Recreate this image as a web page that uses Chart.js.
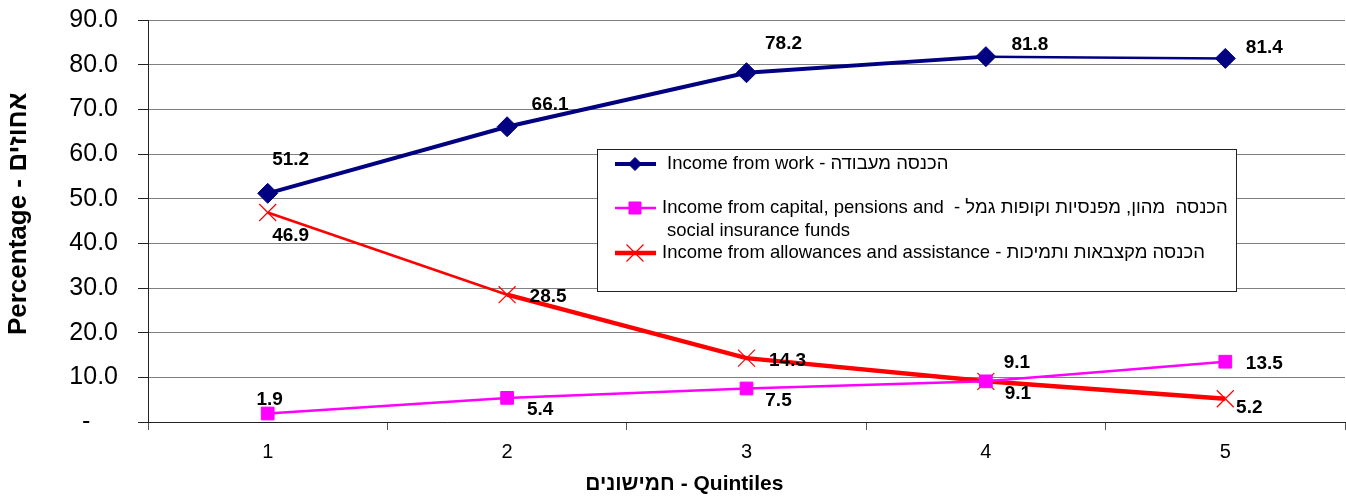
<!DOCTYPE html>
<html>
<head>
<meta charset="utf-8">
<script src="https://cdn.jsdelivr.net/npm/chart.js@4.4.0/dist/chart.umd.min.js"></script>
<style>
  html, body { margin: 0; padding: 0; background: #fff; }
  #wrap { width: 1346px; height: 502px; position: relative; }
</style>
</head>
<body>
<div id="wrap"><canvas id="myChart"></canvas></div>
<script>
var quintiles = ["1", "2", "3", "4", "5"];
var workIncome = [51.2, 66.1, 78.2, 81.8, 81.4];
var capitalIncome = [1.9, 5.4, 7.5, 9.1, 13.5];
var allowanceIncome = [46.9, 28.5, 14.3, 9.1, 5.2];
var yTickLabels = ["-    ", "10.0", "20.0", "30.0", "40.0", "50.0", "60.0", "70.0", "80.0", "90.0"];

var workName = "Income from work - הכנסה מעבודה";
var capitalName = ["Income from capital, pensions and  - הכנסה  מהון, מפנסיות וקופות גמל", "social insurance funds"];
var allowanceName = "Income from allowances and assistance - הכנסה מקצבאות ותמיכות";
var xTitle = "חמישונים - Quintiles";
var yTitle = "  Percentage - אחוזים";

// where each value label sits relative to its point (px)
var workShift = [[23, -34], [43, -22], [37, -29], [44, -12], [39, -11]];
var capitalShift = [[2, -14], [33, 12], [32, 12], [31, -19], [39, 2]];
var allowanceShift = [[23, 23], [41, 2], [41, 3], [32, 12], [24, 9]];

var FONT = "'Liberation Sans', Arial, sans-serif";
Chart.defaults.font.family = FONT;
Chart.defaults.color = "#000";

var valueLabels = {
  id: "valueLabels",
  afterDatasetsDraw: function(chart) {
    var ctx = chart.ctx;
    ctx.save();
    ctx.font = "bold 19px " + FONT;
    ctx.fillStyle = "#000";
    ctx.textAlign = "center";
    ctx.textBaseline = "middle";
    chart.data.datasets.forEach(function(ds, i) {
      chart.getDatasetMeta(i).data.forEach(function(pt, j) {
        var s = ds.labelShift[j];
        ctx.fillText(ds.data[j].toFixed(1), pt.x + s[0], pt.y + s[1]);
      });
    });
    ctx.restore();
  }
};

var boxLegend = {
  id: "boxLegend",
  afterDraw: function(chart) {
    var ctx = chart.ctx;
    var a = chart.chartArea;
    var bx = a.left + 449, by = a.top + 129, bw = 639, bh = 142;
    ctx.save();
    ctx.fillStyle = "#fff";
    ctx.fillRect(bx, by, bw, bh);
    ctx.strokeStyle = "#222";
    ctx.lineWidth = 1;
    ctx.strokeRect(bx + 0.5, by + 0.5, bw, bh);

    var rows = [by + 15, by + 59, by + 104];
    ctx.font = "18.5px " + FONT;
    ctx.textBaseline = "middle";
    ctx.textAlign = "left";
    chart.data.datasets.forEach(function(ds, i) {
      var y = rows[i];
      ctx.strokeStyle = ds.borderColor;
      ctx.lineWidth = ds.legendLine;
      ctx.beginPath();
      ctx.moveTo(bx + 18, y);
      ctx.lineTo(bx + 59, y);
      ctx.stroke();
      ctx.fillStyle = ds.pointBackgroundColor;
      ctx.strokeStyle = ds.pointBorderColor;
      ctx.lineWidth = ds.pointBorderWidth;
      Chart.helpers.drawPoint(ctx, {
        pointStyle: ds.pointStyle,
        radius: ds.legendPoint,
        rotation: 0,
        borderWidth: ds.pointBorderWidth
      }, bx + 38, y);
      ctx.fillStyle = "#000";
      var lines = Array.isArray(ds.label) ? ds.label : [ds.label];
      lines.forEach(function(t, k) {
        ctx.fillText(t, bx + 65 + (i === 0 ? 5 : 0) + (k ? 5 : 0), y + k * 23);
      });
    });

    // x axis title
    ctx.font = "bold 21px " + FONT;
    ctx.textAlign = "center";
    ctx.fillText(xTitle, a.left + (a.right - a.left) * 0.448, a.bottom + 62);
    ctx.restore();
  }
};

var chart = new Chart(document.getElementById("myChart").getContext("2d"), {
  type: "line",
  data: {
    labels: quintiles,
    datasets: [
      {
        label: workName,
        data: workIncome,
        labelShift: workShift,
        borderColor: "#000080",
        borderWidth: 4,
        legendLine: 4,
        segment: { borderWidth: function(c) { return c.p0DataIndex === 3 ? 2.5 : 4; } },
        pointStyle: "rectRot",
        pointRadius: 10,
        legendPoint: 6.5,
        pointBackgroundColor: "#000080",
        pointBorderColor: "#000080",
        pointBorderWidth: 1
      },
      {
        label: capitalName,
        data: capitalIncome,
        labelShift: capitalShift,
        borderColor: "#FF00FF",
        borderWidth: 2.5,
        legendLine: 2.5,
        pointStyle: "rect",
        pointRadius: 9,
        legendPoint: 8.5,
        pointBackgroundColor: "#FF00FF",
        pointBorderColor: "#FF00FF",
        pointBorderWidth: 1
      },
      {
        label: allowanceName,
        data: allowanceIncome,
        labelShift: allowanceShift,
        borderColor: "#FF0000",
        borderWidth: 4.5,
        legendLine: 4.5,
        segment: { borderWidth: function(c) { return c.p0DataIndex === 0 ? 2.5 : 4.5; } },
        pointStyle: "crossRot",
        pointRadius: 12,
        legendPoint: 12,
        pointBackgroundColor: "#FF0000",
        pointBorderColor: "#FF0000",
        pointBorderWidth: 1.2
      }
    ]
  },
  options: {
    responsive: true,
    maintainAspectRatio: false,
    animation: false,
    layout: { autoPadding: false, padding: { top: 20, right: 1, bottom: 0, left: 0 } },
    plugins: {
      legend: { display: false },
      tooltip: { enabled: false }
    },
    scales: {
      x: {
        offset: true,
        grid: { offset: true, drawOnChartArea: false, drawTicks: true, tickLength: 8, tickColor: "#555" },
        border: { color: "#222", width: 1 },
        ticks: { font: { size: 20 }, color: "#000", padding: 10, maxRotation: 0 },
        afterFit: function(s) {
          s.height = 80;
          s.paddingLeft = 0;
          s.paddingRight = 0;
        }
      },
      y: {
        min: 0,
        max: 90,
        ticks: {
          stepSize: 10,
          font: { size: 25 },
          color: "#000",
          padding: 20,
          callback: function(v, i) { return yTickLabels[i]; }
        },
        grid: { color: "#808080", tickColor: "#222", tickLength: 10 },
        border: { color: "#222", width: 1 },
        title: {
          display: true,
          text: yTitle,
          font: { size: 26, weight: "bold" },
          color: "#000",
          padding: { top: 3, bottom: 0 }
        },
        afterFit: function(s) {
          s.width = 148;
          s.paddingTop = 0;
          s.paddingBottom = 0;
        }
      }
    }
  },
  plugins: [valueLabels, boxLegend]
});
</script>
</body>
</html>
